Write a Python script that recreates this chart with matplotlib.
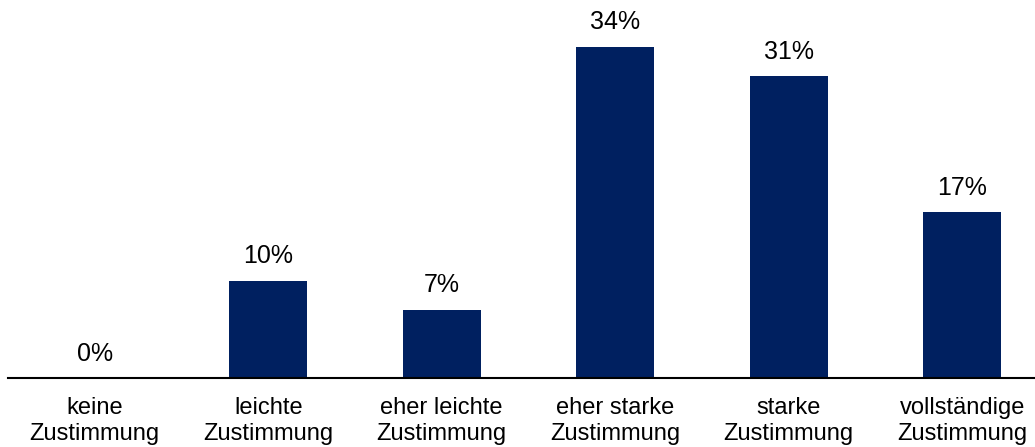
import matplotlib.pyplot as plt
import numpy as np

plt.rcParams['font.family'] = ['Liberation Sans', 'DejaVu Sans']

# Daten
kategorien = ['keine\nZustimmung', 'leichte\nZustimmung', 'eher leichte\nZustimmung',
              'eher starke\nZustimmung', 'starke\nZustimmung', 'vollständige\nZustimmung']
anteile = [0, 10, 7, 34, 31, 17]

farbe = '#002060'

fig = plt.figure(figsize=(10.35, 4.47), dpi=100)
ax = fig.add_axes([8 / 1035, 69 / 447, 1 - 8 / 1035, 378 / 447])

x = np.arange(len(kategorien))
ax.bar(x, anteile, width=0.45, color=farbe)

for xi, wert in zip(x, anteile):
    ax.annotate(f'{wert}%', (xi, wert), xytext=(0, 12.5), textcoords='offset points',
                ha='center', va='baseline', fontsize=18)

ax.set_xlim(-0.5, 5.42)
ax.set_ylim(0, 38.8)
ax.set_xticks(x)
ax.set_xticklabels(kategorien, fontsize=17, linespacing=1.22)
ax.tick_params(axis='x', length=0, pad=14)
ax.set_yticks([])

for seite in ['top', 'right', 'left']:
    ax.spines[seite].set_visible(False)
ax.spines['bottom'].set_color('black')
ax.spines['bottom'].set_linewidth(1.5)

fig.savefig('out.png', dpi=100)
